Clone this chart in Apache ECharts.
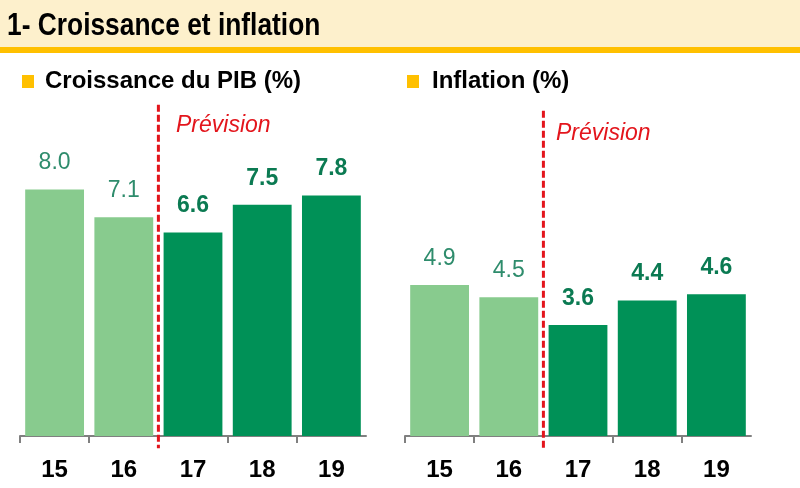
<!DOCTYPE html>
<html>
<head>
<meta charset="utf-8">
<script src="https://cdn.jsdelivr.net/npm/echarts@6/dist/echarts.min.js"></script>
<style>
html,body{margin:0;padding:0;background:#fff;}
#main{width:800px;height:488px;}
</style>
</head>
<body>
<div id="main"></div>
<script>
// ---- Data ----
const categories = ['15', '16', '17', '18', '19'];
const pibValues = [8.0, 7.1, 6.6, 7.5, 7.8];
const inflationValues = [4.9, 4.5, 3.6, 4.4, 4.6];
const forecastStart = 2;            // index of first forecast year (17)
const chartTitle = '1- Croissance et inflation';
const panelTitles = ['Croissance du PIB (%)', 'Inflation (%)'];
const forecastLabel = 'Prévision';

// ---- Styles ----
const SANS = '"Liberation Sans", Arial, sans-serif';
const LIGHT = '#88CB8E';
const DARK = '#009157';
const LIGHT_TXT = '#2E8C6C';
const DARK_TXT = '#0B7A52';
const RED = '#E3151C';

function barData(values) {
  return values.map((v, i) => {
    const fc = i >= forecastStart;
    return {
      value: v,
      itemStyle: { color: fc ? DARK : LIGHT },
      label: {
        color: fc ? DARK_TXT : LIGHT_TXT,
        fontWeight: fc ? 'bold' : 'normal'
      }
    };
  });
}

const tickValues = categories.map((c, i) => i).filter(i => i !== forecastStart);

const grids = [
  { left: 20, width: 346, top: 97, height: 339 },
  { left: 405, width: 346, top: 97, height: 339 }
];

const xAxes = [];
const yAxes = [];
const series = [];
const lineTops = [10.75, 10.55];
[pibValues, inflationValues].forEach((vals, g) => {
  xAxes.push({
    type: 'category', gridIndex: g, data: categories, position: 'bottom',
    axisLine: { lineStyle: { color: '#808080', width: 2 } },
    axisTick: { show: false },
    axisLabel: { fontFamily: SANS, fontSize: 24, fontWeight: 'bold', color: '#000', margin: 22 }
  });
  xAxes.push({
    type: 'value', gridIndex: g, min: 0, max: categories.length, position: 'bottom',
    axisLine: { show: false, onZero: false },
    axisLabel: { show: false },
    splitLine: { show: false },
    axisTick: { show: true, customValues: tickValues, length: 7, lineStyle: { color: '#808080', width: 2 } }
  });
  yAxes.push({
    type: 'value', gridIndex: g, min: 0, max: 11, show: false, splitLine: { show: false }
  });
  series.push({
    type: 'bar', xAxisIndex: g * 2, yAxisIndex: g, data: barData(vals),
    barWidth: '85%',
    label: {
      show: true, position: 'top', distance: 15,
      fontFamily: SANS, fontSize: 23,
      formatter: p => p.value.toFixed(1)
    },
    animation: false
  });
  series.push({
    type: 'line', xAxisIndex: g * 2 + 1, yAxisIndex: g,
    data: [[forecastStart, lineTops[g]], [forecastStart, -0.4]],
    symbol: 'none', clip: false,
    lineStyle: { color: RED, width: 3, type: [7, 3] },
    animation: false, silent: true
  });
});

const chart = echarts.init(document.getElementById('main'), null, { renderer: 'canvas' });
chart.setOption({
  backgroundColor: '#fff',
  animation: false,
  grid: grids,
  xAxis: xAxes,
  yAxis: yAxes,
  series: series,
  graphic: [
    { type: 'rect', left: 0, top: 0, z: -10, shape: { width: 800, height: 47 }, style: { fill: '#FDF0CC' } },
    { type: 'rect', left: 0, top: 47, z: -10, shape: { width: 800, height: 6 }, style: { fill: '#FFC000' } },
    { type: 'text', x: 7, y: 26, scaleX: 0.85, style: { text: chartTitle, fill: '#000', font: 'bold 31px ' + SANS, verticalAlign: 'middle' } },
    { type: 'rect', left: 22, top: 75, shape: { width: 12, height: 13 }, style: { fill: '#FFC000' } },
    { type: 'rect', left: 407, top: 75, shape: { width: 12, height: 13 }, style: { fill: '#FFC000' } },
    { type: 'text', x: 45, y: 81, style: { text: panelTitles[0], fill: '#000', font: 'bold 24px ' + SANS, verticalAlign: 'middle' } },
    { type: 'text', x: 432, y: 81, style: { text: panelTitles[1], fill: '#000', font: 'bold 24px ' + SANS, verticalAlign: 'middle' } },
    { type: 'text', x: 176, y: 126, style: { text: forecastLabel, fill: RED, font: 'italic 23px ' + SANS, verticalAlign: 'middle' } },
    { type: 'text', x: 556, y: 134, style: { text: forecastLabel, fill: RED, font: 'italic 23px ' + SANS, verticalAlign: 'middle' } }
  ]
});
</script>
</body>
</html>
